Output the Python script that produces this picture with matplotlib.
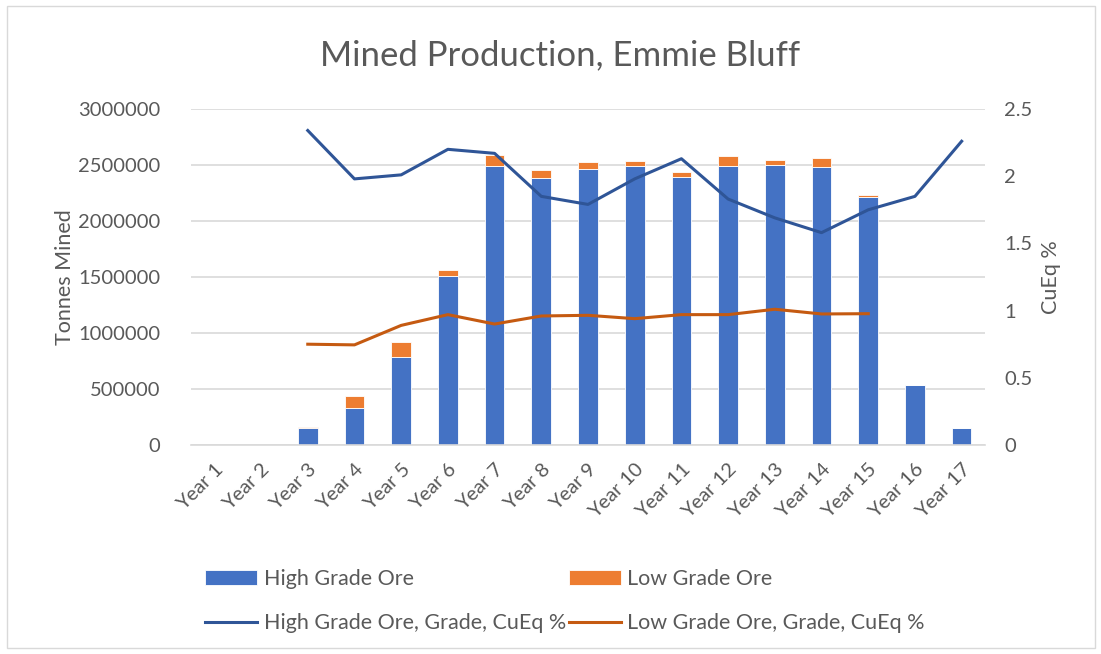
import numpy as np
import matplotlib.pyplot as plt
from matplotlib.patches import Rectangle

plt.rcParams['font.family'] = ['Lato', 'DejaVu Sans']

years = ["Year %d" % i for i in range(1, 18)]
high_ore = [0, 0, 150000, 334000, 784000, 1509000, 2493000, 2380000, 2463000,
            2493000, 2395000, 2493000, 2499000, 2481000, 2210000, 540000, 152000]
low_ore = [0, 0, 15000, 104000, 134000, 54000, 95000, 71000, 60000,
           42000, 41000, 87000, 42000, 84000, 21000, 0, 0]
high_grade = [np.nan, np.nan, 2.34, 1.98, 2.01, 2.20, 2.17, 1.85, 1.79,
              1.98, 2.13, 1.83, 1.69, 1.58, 1.75, 1.85, 2.26]
low_grade = [np.nan, np.nan, 0.75, 0.745, 0.89, 0.97, 0.90, 0.96, 0.965,
             0.94, 0.97, 0.97, 1.01, 0.975, 0.977, np.nan, np.nan]

txt = "#595959"
blue = "#4472c4"
orange = "#ed7d31"
line_blue = "#2f5597"
line_orange = "#c55a11"

fig = plt.figure(figsize=(11.01, 6.54), dpi=100)
ax = fig.add_axes([191/1101, 1 - 445/654, 794/1101, 336/654])
ax2 = ax.twinx()

x = np.arange(len(years))
b1 = ax.bar(x, high_ore, width=0.42, color=blue, edgecolor="white", linewidth=0.6,
            label="High Grade Ore", zorder=2)
b2 = ax.bar(x, low_ore, width=0.42, bottom=high_ore, color=orange, edgecolor="white",
            linewidth=0.6, label="Low Grade Ore", zorder=2)
l1, = ax2.plot(x, high_grade, color=line_blue, lw=2.2, label="High Grade Ore, Grade, CuEq %")
l2, = ax2.plot(x, low_grade, color=line_orange, lw=2.2, label="Low Grade Ore, Grade, CuEq %")

ax.set_xlim(-0.5, len(years) - 0.5)
ax.set_ylim(0, 3000000)
ax.set_yticks(np.arange(0, 3000001, 500000))
ax.set_yticklabels([str(v) for v in range(0, 3000001, 500000)])
ax2.set_ylim(0, 2.5)
ax2.set_yticks([0, 0.5, 1, 1.5, 2, 2.5])
ax2.set_yticklabels(["0", "0.5", "1", "1.5", "2", "2.5"])

ax.yaxis.grid(True, color="#d9d9d9", lw=1.2, zorder=0)
ax.set_axisbelow(True)
for a in (ax, ax2):
    for s in a.spines.values():
        s.set_visible(False)
    a.tick_params(length=0, labelsize=14.5, colors=txt)
ax.spines["bottom"].set_visible(True)
ax.spines["bottom"].set_color("#d9d9d9")
ax.spines["bottom"].set_linewidth(1.2)

ax.set_xticks(x)
ax.set_xticklabels(years, rotation=45, ha="right", rotation_mode="anchor")
ax.tick_params(axis="x", pad=11)
ax.tick_params(axis="y", pad=22)
ax2.tick_params(axis="y", pad=14)

ax.set_ylabel("Tonnes Mined", fontsize=15.5, color=txt, labelpad=2)
ax2.set_ylabel("CuEq %", fontsize=15.5, color=txt, labelpad=6)

fig.text(0.509, 1 - 55/654, "Mined Production, Emmie Bluff", fontsize=25, color=txt,
         ha="center", va="center")

fig.legend(handles=[b1, l1, b2, l2], ncol=2, loc="center", bbox_to_anchor=(565/1101, 1 - 601/654),
           frameon=False, fontsize=15.5, labelcolor=txt, handlelength=2.4, handleheight=0.7,
           columnspacing=0.15, handletextpad=0.3, labelspacing=1.15)

fig.patches.append(Rectangle((7/1101, 6/654), 1088/1101, 642/654, transform=fig.transFigure,
                             fill=False, edgecolor="#d9d9d9", lw=1))

fig.savefig("out.png", dpi=100, facecolor="white")
